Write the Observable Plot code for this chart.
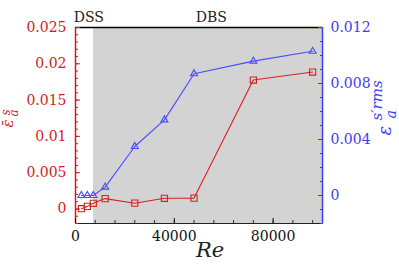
<!DOCTYPE html>
<html>
<head>
<meta charset="utf-8">
<script src="https://cdn.jsdelivr.net/npm/d3@7"></script>
<script src="https://cdn.jsdelivr.net/npm/@observablehq/plot@0.6"></script>
<style>
  html, body { margin: 0; padding: 0; background: #fff; }
  #chart svg { font-family: "DejaVu Serif", serif !important; font-size: 14px !important; }
</style>
</head>
<body>
<div id="chart"></div>
<script>
// ---- data ----
const re = [2400, 4800, 7200, 12000, 24000, 36000, 48000, 72000, 96000];
const epsMean = [0.00004, 0.00036, 0.00078, 0.00143, 0.0008, 0.00147, 0.0015, 0.01776, 0.01886];
const epsRms = [0.0, 0.0, 0.0, 0.0006, 0.0035, 0.0054, 0.0087, 0.0096, 0.0103];
const regimeLabels = ["DSS", "DBS"];
const regimeX = [5400, 55000];
const shadeRange = [7300, 100000];
const xMajor = [0, 40000, 80000];
const xMinor = [0, 8000, 16000, 24000, 32000, 40000, 48000, 56000, 64000, 72000, 80000, 88000, 96000];
const leftMajor = [0, 0.005, 0.01, 0.015, 0.02, 0.025];
const leftMinor = d3.range(-2, 26).map(i => i / 1000);
const rightMajor = [0, 0.004, 0.008, 0.012];
const rightMinor = d3.range(-2, 13).map(i => i / 1000);
const xDomain = [0, 100000];
const leftDomain = [-0.002, 0.025];
const rightDomain = [-0.002, 0.012];

const red = "#d61a1a";
const blue = "#3c3cff";
const serif = "DejaVu Serif";

const toLeft = v => leftDomain[0] + (v - rightDomain[0]) * (leftDomain[1] - leftDomain[0]) / (rightDomain[1] - rightDomain[0]);
const fromLeft = v => rightDomain[0] + (v - leftDomain[0]) * (rightDomain[1] - rightDomain[0]) / (leftDomain[1] - leftDomain[0]);
const fmt = v => String(+(+v).toFixed(4));

const rows = re.map((r, i) => ({re: r, mean: epsMean[i], rms: epsRms[i]}));
const regimes = regimeLabels.map((l, i) => ({label: l, x: regimeX[i]}));

const W = 399, H = 266, mL = 75, mR = 77, mT = 27, mB = 43;
// label piece helper (screen position relative to the frame's top-left)
const piece = (t, sx, sy, size, color) => Plot.text([t], {
  text: d => d, frameAnchor: "top-left", dx: sx - mL, dy: sy - mT,
  rotate: -90, textAnchor: "start", lineAnchor: "middle",
  fontSize: size, fontStyle: "italic", fill: color, fontFamily: serif
});

const chart = Plot.plot({
  width: W, height: H,
  marginLeft: mL, marginRight: mR, marginTop: mT, marginBottom: mB,
  style: {fontFamily: serif, fontSize: "14px", background: "#fff"},
  x: {domain: xDomain},
  y: {domain: leftDomain},
  marks: [
    Plot.rect([shadeRange], {x1: d => d[0], x2: d => d[1], fill: "#d3d3d3"}),
    // frame lines
    Plot.ruleY([leftDomain[1]], {stroke: "#000", strokeWidth: 1.5}),
    Plot.ruleY([leftDomain[0]], {stroke: "#222", strokeWidth: 1.2}),
    Plot.ruleX([xDomain[0]], {stroke: red, strokeWidth: 1.5}),
    Plot.ruleX([xDomain[1]], {stroke: blue, strokeWidth: 1.5}),
    // x axis
    Plot.axisX(xMinor, {anchor: "bottom", tickSize: -3, tickFormat: () => "", label: null, color: "#333"}),
    Plot.axisX(xMajor, {anchor: "bottom", tickSize: -5, tickPadding: 13, label: null, color: "#111", tickFormat: d => String(d)}),
    // left axis
    Plot.axisY(leftMinor, {anchor: "left", tickSize: -3, tickFormat: () => "", label: null, color: red}),
    Plot.axisY(leftMajor, {anchor: "left", tickSize: -5, tickPadding: 14, label: null, color: red, tickFormat: fmt}),
    // right axis (mapped onto the left scale)
    Plot.axisY(rightMinor.map(toLeft), {anchor: "right", tickSize: -3, tickFormat: () => "", label: null, color: blue}),
    Plot.axisY(rightMajor.map(toLeft), {anchor: "right", tickSize: -5, tickPadding: 13, label: null, color: blue, tickFormat: d => fmt(fromLeft(d))}),
    // series
    Plot.line(rows, {x: "re", y: d => toLeft(d.rms), stroke: "#4a4aff", strokeWidth: 1.1}),
    Plot.dot(rows, {x: "re", y: d => toLeft(d.rms), symbol: "triangle", r: 2.6, stroke: "#4a4aff", fill: "none", strokeWidth: 1.1}),
    Plot.line(rows, {x: "re", y: "mean", stroke: "#d42222", strokeWidth: 1.1}),
    Plot.dot(rows, {x: "re", y: "mean", symbol: "square", r: 3.5, stroke: "#d42222", fill: "none", strokeWidth: 1.1}),
    // regime labels
    Plot.text(regimes, {x: "x", text: "label", frameAnchor: "top", dy: -15, fontSize: 14, fill: "#222", fontFamily: serif}),
    // x label
    Plot.text(["Re"], {text: d => d, frameAnchor: "bottom", dx: 11, dy: 33, fontSize: 21, fontStyle: "italic", fill: "#222", fontFamily: serif}),
    // left y label: mean strain
    piece("ε", 8, 127, 15, red),
    piece("¯", 8, 127.5, 15, red),
    piece("s", 6, 115, 12, red),
    piece("a", 13.5, 116, 12, red),
    // right y label: rms strain
    piece("ε", 384.5, 135, 18, blue),
    piece("s′rms", 376.2, 120, 15, blue),
    piece("a", 391.5, 118, 14, blue)
  ]
});
document.getElementById("chart").appendChild(chart);
</script>
</body>
</html>
